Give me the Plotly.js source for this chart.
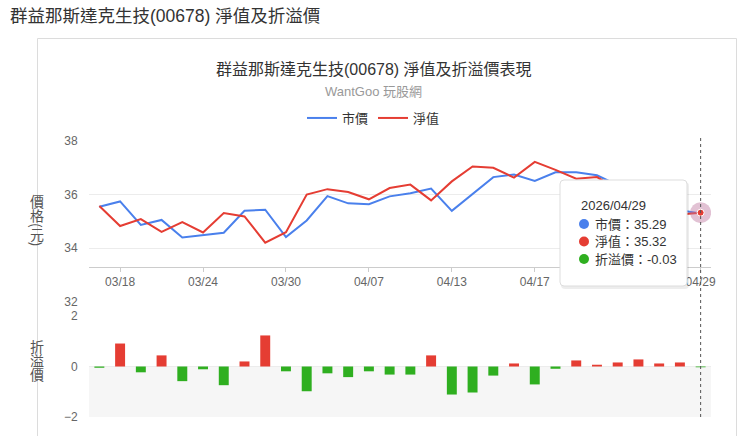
<!DOCTYPE html>
<html><head><meta charset="utf-8">
<script src="https://cdn.plot.ly/plotly-3.0.1.min.js"></script>
<style>
html,body{margin:0;padding:0;background:#fff;}
#wrap{position:relative;width:745px;height:436px;}
#chart{width:745px;height:436px;}
.vt{position:absolute;writing-mode:vertical-rl;text-orientation:mixed;font-family:'Noto Sans CJK TC','Liberation Sans',sans-serif;
    font-size:14px;line-height:14px;color:#555;white-space:nowrap;}
</style>
</head><body><div id="wrap"><div id="chart"></div>
<div class="vt" id="ytitle1" style="left:30px;top:195px;"></div>
<div class="vt" id="ytitle2" style="left:30px;top:340px;"></div>
</div>
<script>
// ---- data ----
const year = '2026';
const dates = ['03/17','03/18','03/19','03/20','03/23','03/24','03/25','03/26','03/27','03/30',
               '03/31','04/01','04/02','04/07','04/08','04/09','04/10','04/13','04/14','04/15',
               '04/16','04/17','04/20','04/21','04/22','04/23','04/24','04/27','04/28','04/29'];
const marketPrice = [35.54,35.74,34.86,35.05,34.39,34.47,34.57,35.39,35.43,34.41,
                     35.03,35.94,35.67,35.64,35.93,36.05,36.22,35.39,36.03,36.65,
                     36.75,36.51,36.83,36.83,36.72,36.35,35.85,35.60,35.41,35.29];
const navValue =    [35.57,34.82,35.08,34.60,34.97,34.58,35.31,35.18,34.20,34.59,
                     36.00,36.20,36.09,35.82,36.24,36.37,35.78,36.49,37.05,37.00,
                     36.63,37.22,36.92,36.59,36.65,36.19,35.57,35.48,35.25,35.32];
const premium =     [-0.05,0.91,-0.23,0.44,-0.58,-0.11,-0.74,0.20,1.23,-0.19,
                     -0.98,-0.27,-0.42,-0.19,-0.32,-0.32,0.44,-1.11,-1.03,-0.36,
                     0.12,-0.71,-0.09,0.24,0.07,0.16,0.28,0.12,0.16,-0.03];
const tickIndex = [1,5,9,13,17,21,25,29];
const tickLabels = tickIndex.map(i => dates[i]);
const priceTicks = [32,34,36,38];
const premiumTicks = [-2,0,2];
const seriesNames = ['市價','淨值','折溢價'];
const yTitles = ['價格(元)','折溢價'];

document.getElementById('ytitle1').textContent = yTitles[0];
document.getElementById('ytitle2').textContent = yTitles[1];

// ---- layout helpers (pixel -> paper) ----
const L=89, R=711, T=141, B=417;
const px = v => (v - L) / (R - L);
const py = v => (B - v) / (B - T);
const BLUE='#4a80ec', RED='#e53d33', GREEN='#2faf20';
const FONT="'Liberation Sans','Noto Sans CJK TC',sans-serif";
const last = dates.length - 1;

const traces = [
  {x: dates, y: marketPrice, name: seriesNames[0], type:'scatter', mode:'lines',
   line:{color:BLUE, width:2}, xaxis:'x', yaxis:'y'},
  {x: dates, y: navValue, name: seriesNames[1], type:'scatter', mode:'lines',
   line:{color:RED, width:2}, xaxis:'x', yaxis:'y'},
  {x: [dates[last]], y: [navValue[last]], type:'scatter', mode:'markers', showlegend:false,
   marker:{size:21, color:'rgba(190,120,160,0.45)'}, xaxis:'x', yaxis:'y'},
  {x: [dates[last]], y: [navValue[last]], type:'scatter', mode:'markers', showlegend:false,
   marker:{size:7, color:RED, line:{color:'#fff', width:1}}, xaxis:'x', yaxis:'y'},
  {x: dates, y: premium, name: seriesNames[2], type:'bar', showlegend:false, width:0.48,
   marker:{color: premium.map(v => v >= 0 ? RED : GREEN)}, xaxis:'x', yaxis:'y2'}
];

const shapes = [
  {type:'rect', xref:'paper', yref:'paper', x0:px(37.5), x1:px(736.5), y0:py(445), y1:py(38.5),
   line:{color:'#dcdcdc', width:1}, fillcolor:'rgba(0,0,0,0)', layer:'below'},
  {type:'rect', xref:'paper', yref:'y2', x0:0, x1:1, y0:-2, y1:0,
   fillcolor:'#f6f6f6', line:{width:0}, layer:'below'},
  {type:'line', xref:'x', yref:'paper', x0:last, x1:last, y0:py(417), y1:py(138),
   line:{color:'#555', width:1, dash:'3px,3px'}, layer:'above'},
];
function roundRect(x0,y0,x1,y1,r){
  const X=px, Y=py;
  return `M${X(x0+r)},${Y(y0)} L${X(x1-r)},${Y(y0)} Q${X(x1)},${Y(y0)} ${X(x1)},${Y(y0+r)} `+
         `L${X(x1)},${Y(y1-r)} Q${X(x1)},${Y(y1)} ${X(x1-r)},${Y(y1)} L${X(x0+r)},${Y(y1)} `+
         `Q${X(x0)},${Y(y1)} ${X(x0)},${Y(y1-r)} L${X(x0)},${Y(y0+r)} Q${X(x0)},${Y(y0)} ${X(x0+r)},${Y(y0)} Z`;
}
shapes.push({type:'path', xref:'paper', yref:'paper', path:roundRect(561,182,689,289,4),
  fillcolor:'rgba(0,0,0,0.07)', line:{width:0}, layer:'above'});
shapes.push({type:'path', xref:'paper', yref:'paper', path:roundRect(560,180,687,286,4),
  fillcolor:'#ffffff', line:{color:'#dddddd', width:1}, layer:'above'});
const rowY = [224, 241.5, 259];
const rowColor = [BLUE, RED, GREEN];
rowY.forEach((y,i) => shapes.push({type:'circle', xref:'paper', yref:'paper',
  x0:px(579), x1:px(589), y0:py(y+5), y1:py(y-5), fillcolor:rowColor[i], line:{width:0}, layer:'above'}));

const ann = [];
const A = (text, x, y, size, color, extra) => ann.push(Object.assign({text, xref:'paper', yref:'paper',
  x:px(x), y:py(y), showarrow:false, font:{family:FONT, size, color}}, extra||{}));
A('群益那斯達克生技(00678) 淨值及折溢價', 8, 16, 17.5, '#333', {xanchor:'left', yanchor:'middle'});
A('群益那斯達克生技(00678) 淨值及折溢價表現', 373.5, 70, 16, '#333', {xanchor:'center', yanchor:'middle'});
A('WantGoo 玩股網', 373.5, 91, 13, '#999', {xanchor:'center', yanchor:'middle'});
A(year + '/' + dates[last], 579, 205, 13, '#333', {xanchor:'left', yanchor:'middle'});
const vals = [marketPrice[last], navValue[last], premium[last]];
rowY.forEach((y,i) => A(seriesNames[i] + '：' + vals[i].toFixed(2), 593, y, 13, '#333', {xanchor:'left', yanchor:'middle'}));

const layout = {
  width:745, height:436,
  margin:{l:L, r:745-R, t:T, b:436-B, pad:0},
  paper_bgcolor:'rgba(0,0,0,0)', plot_bgcolor:'rgba(0,0,0,0)',
  font:{family:FONT, size:12, color:'#666'},
  showlegend:true,
  legend:{orientation:'h', x:px(373.5), xanchor:'center', y:py(118), yanchor:'middle',
          font:{size:13, color:'#333'}, itemwidth:30, bgcolor:'rgba(0,0,0,0)', tracegroupgap:0},
  bargap:0.5,
  xaxis:{type:'category', range:[-0.5, last+0.5], anchor:'free', position:py(267),
         tickmode:'array', tickvals:tickIndex.map(i=>dates[i]), ticktext:tickLabels,
         showline:true, linecolor:'#cccccc', linewidth:1, ticks:'outside', ticklen:4, tickcolor:'#cccccc',
         showgrid:false, zeroline:false, tickfont:{size:12, color:'#666'}, fixedrange:true},
  yaxis:{domain:[py(301.5), 1], range:[32,38], tickvals:priceTicks, showgrid:true, gridcolor:'#ececec',
         zeroline:false, showline:false, ticks:'outside', ticklen:8, tickcolor:'rgba(0,0,0,0)',
         tickfont:{size:12, color:'#666'}, fixedrange:true},
  yaxis2:{domain:[0, py(316)], range:[-2,2], tickvals:premiumTicks, showgrid:true, gridcolor:'#ececec',
          zeroline:true, zerolinecolor:'#ececec', zerolinewidth:1, showline:false, ticks:'outside', ticklen:8,
          tickcolor:'rgba(0,0,0,0)', tickfont:{size:12, color:'#666'}, fixedrange:true},
  shapes, annotations:ann, hovermode:false
};
Plotly.newPlot('chart', traces, layout, {staticPlot:true, displayModeBar:false});
</script></body></html>
